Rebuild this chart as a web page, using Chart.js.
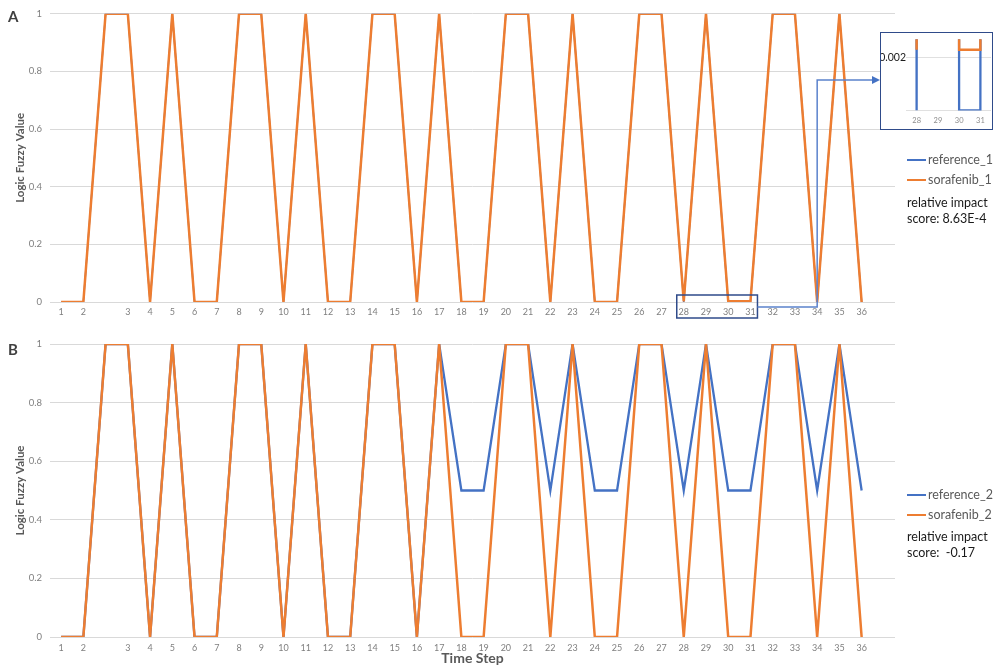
<!DOCTYPE html>
<html>
<head>
<meta charset="utf-8">
<script src="https://cdn.jsdelivr.net/npm/chart.js@4.4.1/dist/chart.umd.min.js"></script>
<style>
  html, body { margin: 0; padding: 0; background: #fff; }
  #wrap { position: relative; width: 1000px; height: 667px; background: #fff; font-family: Lato, "Open Sans", sans-serif; overflow: hidden; }
  .panel { position: absolute; left: 0; width: 1000px; }
  .tag { position: absolute; font-weight: bold; font-size: 15px; color: #404040; line-height: 1; }
  .leg { position: absolute; left: 907px; font-size: 12.5px; color: #595959; line-height: 1; white-space: nowrap; }
  .leg i { display: inline-block; width: 19px; height: 2.5px; vertical-align: middle; margin-right: 2px; position: relative; top: -1px; }
  .note { position: absolute; left: 907px; font-size: 12.5px; color: #1a1a1a; line-height: 16px; white-space: nowrap; }
  #inset { position: absolute; left: 880px; top: 32px; width: 113px; height: 98px; box-sizing: border-box; border: 1.5px solid #2f4b8a; background: #fff; }
  #insetInner { position: absolute; left: 0; top: 0; width: 110px; height: 95px; }
</style>
</head>
<body>
<div id="wrap">
  <div class="panel" style="top:0;height:330px"><canvas id="chartA"></canvas></div>
  <div class="panel" style="top:330px;height:337px"><canvas id="chartB"></canvas></div>

  <div class="tag" style="left:8px;top:9px">A</div>
  <div class="tag" style="left:8px;top:342px">B</div>

  <div class="leg" style="top:154px"><i style="background:#4472c4"></i>reference_1</div>
  <div class="leg" style="top:174px"><i style="background:#ed7d31"></i>sorafenib_1</div>
  <div class="note" style="top:195px">relative impact<br>score: 8.63E-4</div>

  <div class="leg" style="top:489px"><i style="background:#4472c4"></i>reference_2</div>
  <div class="leg" style="top:509px"><i style="background:#ed7d31"></i>sorafenib_2</div>
  <div class="note" style="top:529px">relative impact<br>score: &nbsp;-0.17</div>

  <div id="inset"><div id="insetInner"><canvas id="chartInset"></canvas></div></div>
</div>

<script>
// ---------- data ----------
const timeSteps = ['1','2','','3','4','5','6','7','8','9','10','11','12','13','14','15','16','17','18','19',
                   '20','21','22','23','24','25','26','27','28','29','30','31','32','33','34','35','36',''];

const reference1 = [0,0,1,1,0,1,0,0,1,1,0,1,0,0,1,1,0,1,0,0,1,1,0,1,0,0,1,1,0,1,0,0,1,1,0,1,0];
const sorafenib1 = [0,0,1,1,0,1,0,0,1,1,0,1,0,0,1,1,0,1,0,0,1,1,0,1,0,0,1,1,0.0023,1,0.0023,0.0023,1,1,0,1,0];

const reference2 = [0,0,1,1,0,1,0,0,1,1,0,1,0,0,1,1,0,1,0.5,0.5,1,1,0.5,1,0.5,0.5,1,1,0.5,1,0.5,0.5,1,1,0.5,1,0.5];
const sorafenib2 = [0,0,1,1,0,1,0,0,1,1,0,1,0,0,1,1,0,1,0,0,1,1,0,1,0,0,1,1,0,1,0,0,1,1,0,1,0];

const yTicks = [0, 0.2, 0.4, 0.6, 0.8, 1];
const insetRange = ['28', '31'];
const insetTicks = [0, 0.002];

const BLUE = '#4472c4', ORANGE = '#ed7d31';
const FONT = 'Lato, "Open Sans", sans-serif';

Chart.defaults.font.family = FONT;
Chart.defaults.animation = false;

function datasets(ref, sor, refLabel, sorLabel, refWidth) {
  return [
    { label: refLabel, data: ref, borderColor: BLUE, backgroundColor: BLUE, borderWidth: refWidth,
      pointRadius: 0, tension: 0, order: 1 },
    { label: sorLabel, data: sor, borderColor: ORANGE, backgroundColor: ORANGE, borderWidth: 2.5,
      pointRadius: 0, tension: 0, order: 0 }
  ];
}

function mainOptions(topPad, xHeight, xTitle, tickPad) {
  return {
    responsive: true,
    maintainAspectRatio: false,
    devicePixelRatio: 1,
    layout: { padding: { top: topPad, right: 105, bottom: 0, left: 0 } },
    plugins: { legend: { display: false }, tooltip: { enabled: false } },
    scales: {
      x: {
        type: 'category',
        offset: true,
        grid: { display: false, drawTicks: false },
        border: { display: false },
        ticks: { autoSkip: false, maxRotation: 0, padding: tickPad, color: '#7f7f7f', font: { size: 9 } },
        title: xTitle ? { display: true, text: xTitle, color: '#595959', font: { size: 14, weight: 'bold' }, padding: { top: 0, bottom: 0 } } : { display: false },
        afterFit: s => { s.height = xHeight; }
      },
      y: {
        min: 0, max: 1,
        afterBuildTicks: s => { s.ticks = yTicks.map(v => ({ value: v })); },
        grid: { color: '#d9d9d9', lineWidth: 1, drawTicks: false },
        border: { display: false },
        ticks: { padding: 8, color: '#7f7f7f', font: { size: 9.5 }, callback: v => String(v) },
        title: { display: true, text: 'Logic Fuzzy Value', color: '#595959', font: { size: 11.5, weight: 'bold' }, padding: { top: 13, bottom: 0 } },
        afterFit: s => { s.width = 50; }
      }
    }
  };
}

// connector annotation from the zoom box to the inset
const connectorPlugin = {
  id: 'connector',
  afterDraw(chart) {
    const xs = chart.scales.x, ys = chart.scales.y, ctx = chart.ctx;
    const iA = timeSteps.indexOf(insetRange[0]), iB = timeSteps.indexOf(insetRange[1]);
    const i34 = timeSteps.indexOf('34');
    const x0 = xs.getPixelForValue(iA) - 7, x1 = xs.getPixelForValue(iB) + 7;
    const yb = ys.getPixelForValue(0);
    const inset = document.getElementById('inset');
    const targetX = inset.offsetLeft;
    const targetY = inset.offsetTop + inset.offsetHeight / 2 - 1;
    const xc = xs.getPixelForValue(i34);
    ctx.save();
    ctx.strokeStyle = '#2f4b8a';
    ctx.lineWidth = 1.5;
    ctx.strokeRect(x0, yb - 7, x1 - x0, 23);
    ctx.strokeStyle = '#5b82cc';
    ctx.lineWidth = 1.5;
    ctx.beginPath();
    ctx.moveTo(x1, yb + 5);
    ctx.lineTo(xc, yb + 5);
    ctx.lineTo(xc, targetY);
    ctx.lineTo(targetX - 6, targetY);
    ctx.stroke();
    ctx.fillStyle = '#4472c4';
    ctx.beginPath();
    ctx.moveTo(targetX, targetY);
    ctx.lineTo(targetX - 8, targetY - 4);
    ctx.lineTo(targetX - 8, targetY + 4);
    ctx.closePath();
    ctx.fill();
    ctx.restore();
  }
};

new Chart(document.getElementById('chartA'), {
  type: 'line',
  data: { labels: timeSteps, datasets: datasets(reference1, sorafenib1, 'reference_1', 'sorafenib_1', 1.5) },
  options: mainOptions(9, 28, null, 5),
  plugins: [connectorPlugin]
});

new Chart(document.getElementById('chartB'), {
  type: 'line',
  data: { labels: timeSteps, datasets: datasets(reference2, sorafenib2, 'reference_2', 'sorafenib_2', 2.3) },
  options: mainOptions(14, 30, 'Time Step', 6)
});

// inset: magnified view of time steps 28-31 of panel A (same series, numeric x = category index)
const iLo = timeSteps.indexOf(insetRange[0]), iHi = timeSteps.indexOf(insetRange[1]);
const toXY = arr => arr.map((v, i) => ({ x: i, y: v }));
new Chart(document.getElementById('chartInset'), {
  type: 'line',
  data: { datasets: datasets(toXY(reference1), toXY(sorafenib1), 'reference_1', 'sorafenib_1', 2.3) },
  options: {
    responsive: true,
    maintainAspectRatio: false,
    devicePixelRatio: 1,
    layout: { padding: { top: 0, right: 0, bottom: 0, left: 0 } },
    plugins: { legend: { display: false }, tooltip: { enabled: false } },
    scales: {
      x: {
        type: 'linear',
        min: iLo - 0.5, max: iHi + 0.5,
        afterBuildTicks: s => { const t = []; for (let i = iLo; i <= iHi; i++) t.push({ value: i }); s.ticks = t; },
        grid: { display: false, drawTicks: false },
        border: { display: false },
        ticks: { autoSkip: false, maxRotation: 0, padding: 6, color: '#8c8c8c', font: { size: 7.5 },
                 callback: v => timeSteps[v] },
        afterFit: s => { s.height = 17.5; }
      },
      y: {
        min: 0, max: 0.0027,
        afterBuildTicks: s => { s.ticks = insetTicks.map(v => ({ value: v })); },
        grid: { color: '#e0e0e0', lineWidth: 1, drawTicks: false },
        border: { display: false },
        ticks: { padding: 0, color: '#1a1a1a', font: { size: 10.5 },
                 callback: v => (v === 0 ? '' : String(v)) },
        afterFit: s => { s.width = 25; }
      }
    }
  }
});
</script>
</body>
</html>
